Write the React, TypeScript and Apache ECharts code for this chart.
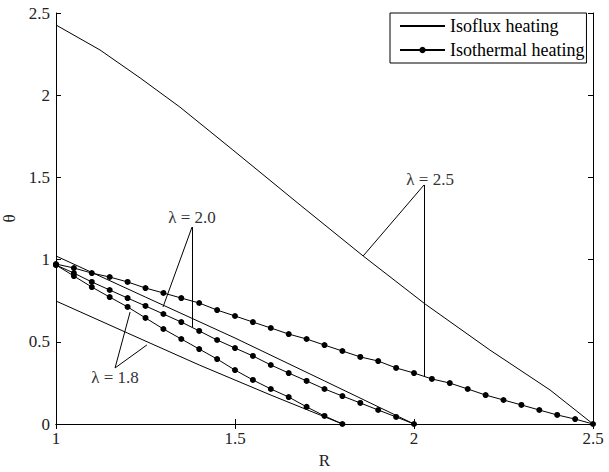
import { useEffect, useRef } from 'react';
import * as echarts from 'echarts';

// Isothermal heating (dotted curves), R sampled every 0.05
const rIso25 = [1.00, 1.05, 1.10, 1.15, 1.20, 1.25, 1.30, 1.35, 1.40, 1.45, 1.50, 1.55, 1.60, 1.65, 1.70, 1.75, 1.80, 1.85, 1.90, 1.95, 2.00, 2.05, 2.10, 2.15, 2.20, 2.25, 2.30, 2.35, 2.40, 2.45, 2.50];
const thetaIso25 = [0.973, 0.949, 0.918, 0.894, 0.864, 0.827, 0.797, 0.766, 0.736, 0.693, 0.657, 0.620, 0.584, 0.547, 0.517, 0.480, 0.444, 0.408, 0.383, 0.341, 0.310, 0.274, 0.249, 0.213, 0.176, 0.146, 0.116, 0.085, 0.055, 0.030, 0];

const rIso20 = [1.00, 1.05, 1.10, 1.15, 1.20, 1.25, 1.30, 1.35, 1.40, 1.45, 1.50, 1.55, 1.60, 1.65, 1.70, 1.75, 1.80, 1.85, 1.90, 1.95, 2.00];
const thetaIso20 = [0.967, 0.918, 0.864, 0.815, 0.766, 0.718, 0.669, 0.620, 0.566, 0.511, 0.462, 0.414, 0.359, 0.310, 0.262, 0.213, 0.170, 0.128, 0.085, 0.043, 0];

const rIso18 = [1.00, 1.05, 1.10, 1.15, 1.20, 1.25, 1.30, 1.35, 1.40, 1.45, 1.50, 1.55, 1.60, 1.65, 1.70, 1.75, 1.80];
const thetaIso18 = [0.967, 0.900, 0.833, 0.772, 0.712, 0.645, 0.578, 0.517, 0.456, 0.395, 0.328, 0.268, 0.213, 0.164, 0.104, 0.049, 0];

// Isoflux heating (plain curves)
const rFlux25 = [1.0, 1.123, 1.235, 1.346, 1.494, 1.682, 1.858, 2.031, 2.212, 2.380, 2.5];
const thetaFlux25 = [2.427, 2.275, 2.105, 1.928, 1.667, 1.332, 1.022, 0.730, 0.450, 0.207, 0];

const rFlux20 = [1.0, 1.25, 1.5, 1.75, 2.0];
const thetaFlux20 = [1.022, 0.772, 0.523, 0.262, 0];

const rFlux18 = [1.0, 1.2, 1.4, 1.6, 1.8];
const thetaFlux18 = [0.748, 0.553, 0.359, 0.176, 0];

// Annotations: label position, arrow start and arrow tips (data coords)
const annLabels = ['λ = 2.5', 'λ = 2.0', 'λ = 1.8'];
const annTextPos = [[2.045, 1.490], [1.380, 1.259], [1.165, 0.280]];
const annStart = [[2.028, 1.454], [1.380, 1.198], [1.165, 0.341]];
const annTips = [
  [[1.858, 1.022], [2.028, 0.286]],
  [[1.299, 0.712], [1.380, 0.590]],
  [[1.207, 0.681], [1.254, 0.481]],
];

const xTicks = { min: 1, max: 2.5, interval: 0.5 };
const yTicks = { min: 0, max: 2.5, interval: 0.5 };

const FONT = 'Liberation Serif';
const zip = (xs: number[], ys: number[]) => xs.map((x, i) => [x, ys[i]]);

export default function App() {
  const ref = useRef<HTMLDivElement>(null);
  useEffect(() => {
    if (!ref.current) return;
    const chart = echarts.init(ref.current, null, { renderer: 'svg' });
    const axisCommon = {
      axisLine: { show: true, lineStyle: { color: '#000', width: 1 } },
      axisTick: { show: true, inside: true, length: 5, lineStyle: { color: '#000' } },
      splitLine: { show: false },
    };
    const flux = (r: number[], t: number[], extra: any = {}) => ({
      type: 'line',
      name: 'Isoflux heating',
      data: zip(r, t),
      symbol: 'none',
      showSymbol: false,
      lineStyle: { color: '#000', width: 1 },
      itemStyle: { color: '#000' },
      z: 2,
      ...extra,
    });
    const iso = (r: number[], t: number[]) => ({
      type: 'line',
      name: 'Isothermal heating',
      data: zip(r, t),
      symbol: 'circle',
      symbolSize: 6,
      lineStyle: { color: '#000', width: 1 },
      itemStyle: { color: '#000' },
      z: 3,
    });
    const markLineData: any[] = [];
    annStart.forEach((s, i) => {
      annTips[i].forEach((tip) => {
        markLineData.push([{ coord: s }, { coord: tip }]);
      });
    });
    chart.setOption({
      animation: false,
      backgroundColor: '#fff',
      textStyle: { fontFamily: FONT },
      grid: { left: 56, right: 16, top: 13, bottom: 48, containLabel: false, outerBoundsMode: 'none' },
      legend: {
        data: [
          { name: 'Isoflux heating', itemStyle: { opacity: 0 } },
          { name: 'Isothermal heating' },
        ],
        orient: 'vertical',
        left: 390,
        top: 13,
        itemWidth: 45,
        itemHeight: 8,
        itemGap: 6,
        padding: [4, 2, 4, 9],
        borderColor: '#000',
        borderWidth: 1,
        borderRadius: 0,
        backgroundColor: '#fff',
        textStyle: { fontFamily: FONT, fontSize: 18, color: '#000' },
        selectedMode: false,
      },
      xAxis: [
        {
          type: 'value', ...xTicks, position: 'bottom', ...axisCommon,
          name: 'R', nameLocation: 'middle', nameGap: 16,
          nameTextStyle: { fontFamily: FONT, fontSize: 17, color: '#222' },
          axisLabel: { fontFamily: FONT, fontSize: 17, color: '#222', margin: 6 },
        },
        { type: 'value', ...xTicks, position: 'top', ...axisCommon, axisLabel: { show: false } },
      ],
      yAxis: [
        {
          type: 'value', ...yTicks, position: 'left', ...axisCommon,
          name: 'θ', nameLocation: 'middle', nameGap: 36, nameRotate: 90,
          nameTextStyle: { fontFamily: FONT, fontSize: 17, color: '#222' },
          axisLabel: { fontFamily: FONT, fontSize: 17, color: '#222', margin: 6 },
        },
        { type: 'value', ...yTicks, position: 'right', ...axisCommon, axisLabel: { show: false } },
      ],
      series: [
        flux(rFlux25, thetaFlux25, {
          markLine: {
            silent: true,
            symbol: ['none', 'arrow'],
            symbolSize: [0, 16],
            label: { show: false },
            lineStyle: { color: '#000', width: 1, type: 'solid' },
            data: markLineData,
          },
          markPoint: {
            silent: true,
            symbol: 'circle',
            symbolSize: 0,
            label: { show: true, position: 'inside', formatter: '{b}', fontFamily: FONT, fontSize: 17, color: '#333' },
            data: annLabels.map((n, i) => ({ name: n, coord: annTextPos[i] })),
          },
        }),
        flux(rFlux20, thetaFlux20),
        flux(rFlux18, thetaFlux18),
        iso(rIso25, thetaIso25),
        iso(rIso20, thetaIso20),
        iso(rIso18, thetaIso18),
      ],
    });
    return () => chart.dispose();
  }, []);
  return <div ref={ref} style={{ position: 'fixed', left: 0, top: 0, width: 609, height: 472 }} />;
}
